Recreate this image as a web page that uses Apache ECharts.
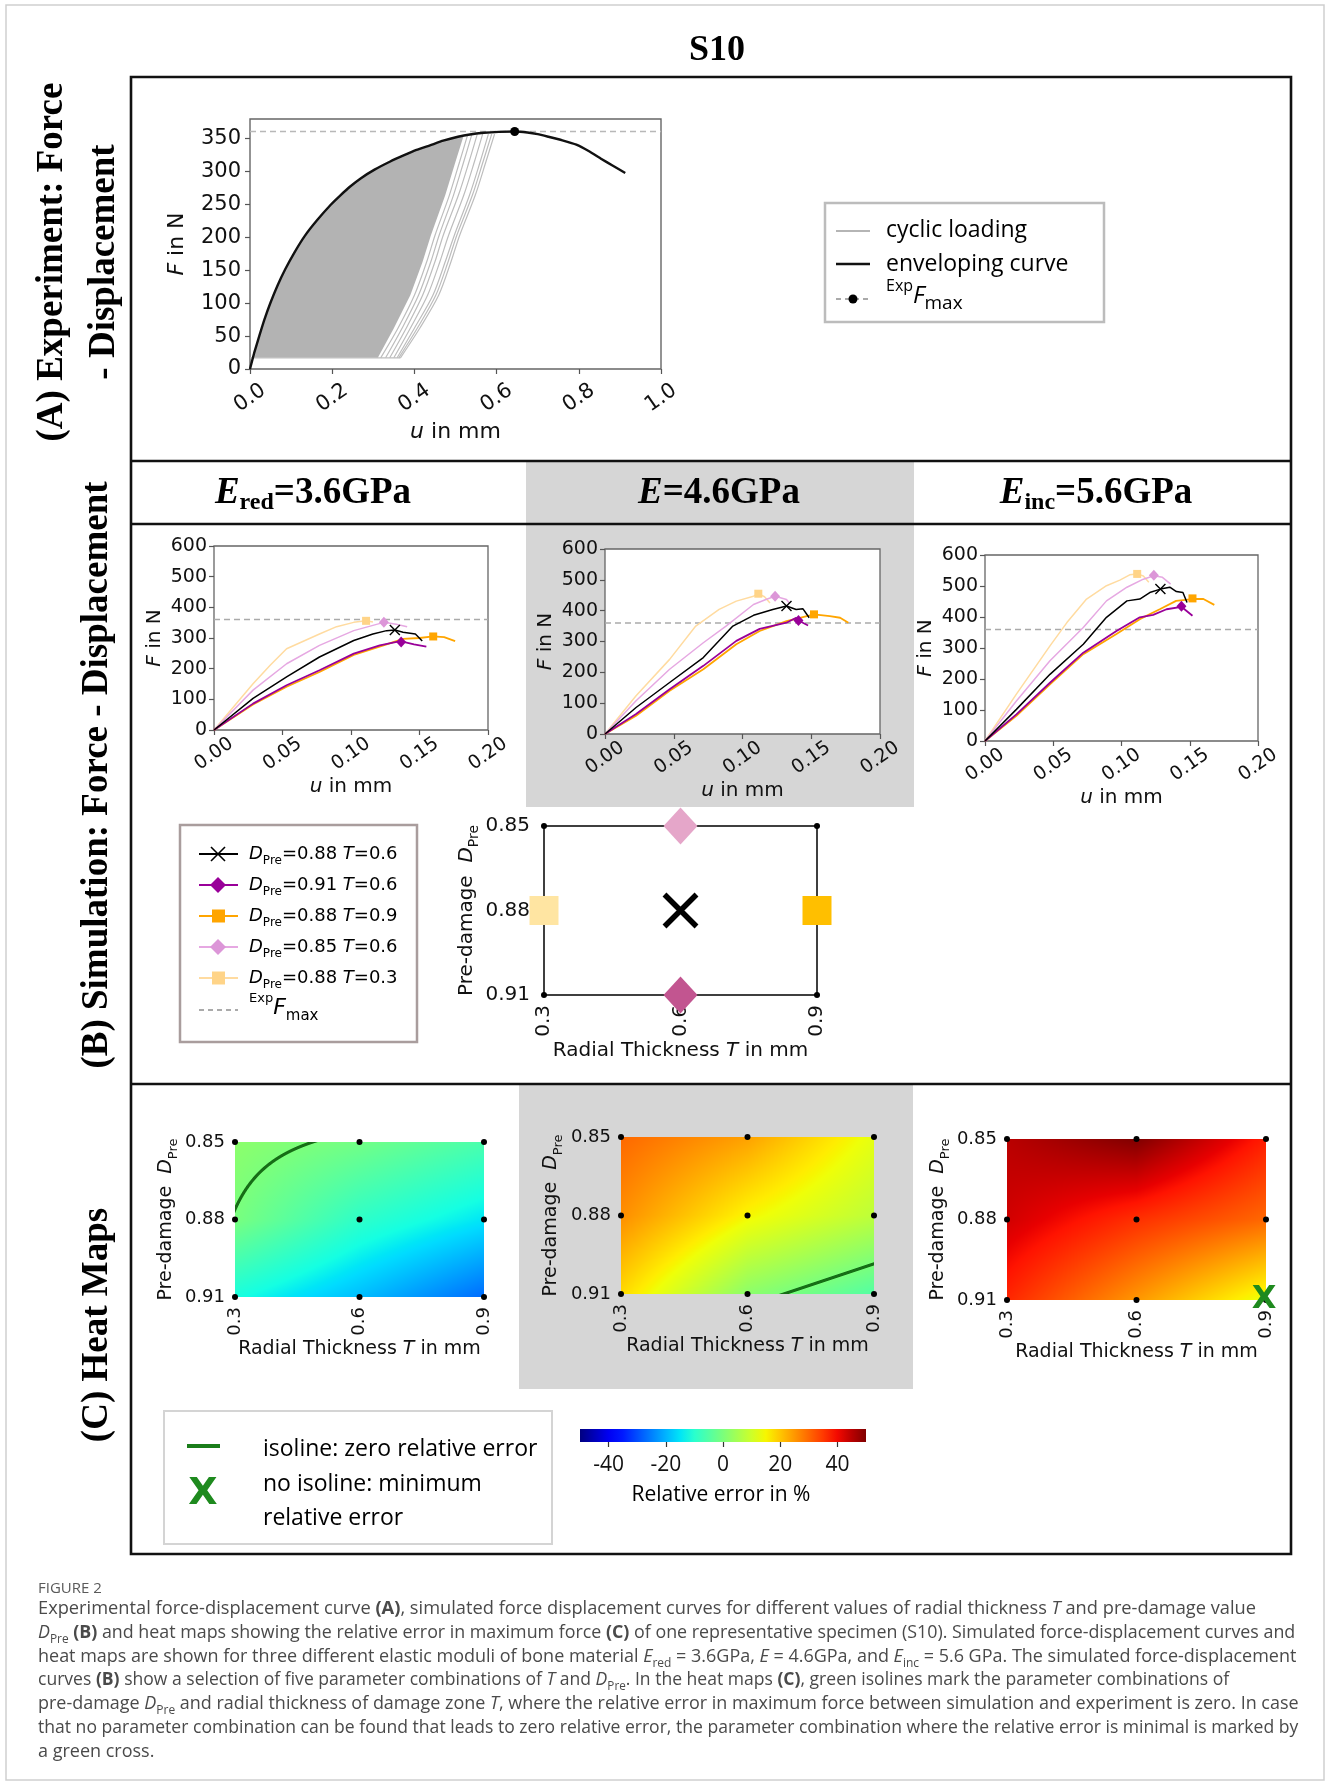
<!DOCTYPE html>
<html><head><meta charset="utf-8">
<script src="https://cdn.jsdelivr.net/npm/echarts@6/dist/echarts.min.js"></script>
<style>html,body{margin:0;padding:0;background:#fff}#c{width:1330px;height:1784px}</style>
</head><body><div id="c"></div>
<script>
const SANS='DejaVu Sans', OS='Open Sans', SERIF='Liberation Serif';

// ---------- (A) experiment ----------
const expPeak = [0.644, 361];
const EXP_FMAX_A = 361;
const envU = [0, 0.01, 0.023, 0.035, 0.05, 0.067, 0.086, 0.108, 0.133, 0.163, 0.197, 0.22, 0.243, 0.27, 0.303, 0.34, 0.375, 0.405, 0.438, 0.47, 0.506, 0.535, 0.569, 0.605, 0.644, 0.675, 0.7, 0.726, 0.76, 0.794, 0.825, 0.853, 0.883, 0.913];
const envF = [0, 24, 51, 75, 101, 127, 152, 177, 202, 226, 250, 264, 277, 290, 303, 315, 325, 333, 340, 347, 353, 356.5, 359, 360.5, 361, 359.5, 357, 353, 347.5, 341, 331, 320, 309, 298];
const cycFillU = [0.008, 0.023, 0.035, 0.05, 0.067, 0.086, 0.108, 0.133, 0.163, 0.197, 0.22, 0.243, 0.27, 0.303, 0.34, 0.375, 0.405, 0.438, 0.47, 0.506, 0.52, 0.50, 0.475, 0.44, 0.42, 0.39, 0.35, 0.311, 0.008];
const cycFillF = [17, 51, 75, 101, 127, 152, 177, 202, 226, 250, 264, 277, 290, 303, 315, 325, 333, 340, 347, 353, 355, 315, 264, 203, 163, 112, 62, 17, 17];
const cycLevelsF = [17, 62, 112, 163, 203, 264, 315, 357];
const cycU1 = [0.318, 0.360, 0.400, 0.430, 0.450, 0.485, 0.510, 0.530];
const cycU2 = [0.330, 0.370, 0.410, 0.440, 0.460, 0.495, 0.520, 0.540];
const cycU3 = [0.340, 0.380, 0.420, 0.450, 0.470, 0.507, 0.533, 0.553];
const cycU4 = [0.350, 0.390, 0.432, 0.462, 0.483, 0.520, 0.546, 0.566];
const cycU5 = [0.358, 0.400, 0.445, 0.475, 0.497, 0.534, 0.560, 0.580];
const cycU6 = [0.362, 0.407, 0.452, 0.482, 0.503, 0.541, 0.567, 0.588];
const cycU7 = [0.366, 0.413, 0.459, 0.489, 0.510, 0.548, 0.574, 0.595];
const cycBaseU = [0.0, 0.366];

// ---------- (B) simulation ----------
const EXP_FMAX = 360;
// E_red = 3.6 GPa
const red_088_06 = [[0,0],[0.0285,103],[0.053,173],[0.077,238],[0.102,292],[0.116,313],[0.126,324],[0.132,326],[0.138,319],[0.147,313],[0.152,290]];
const red_091_06 = [[0,0],[0.0285,86],[0.053,146],[0.077,195],[0.102,249],[0.121,276],[0.136,290],[0.1366,284],[0.146,279],[0.155,272]];
const red_088_09 = [[0,0],[0.0285,83],[0.053,141],[0.077,189],[0.102,245],[0.126,279],[0.138,297],[0.15,300],[0.16,305],[0.168,303],[0.176,290]];
const red_085_06 = [[0,0],[0.0285,130],[0.053,216],[0.077,276],[0.102,324],[0.124,351],[0.133,345],[0.141,337]];
const red_088_03 = [[0,0],[0.0285,151],[0.041,211],[0.053,265],[0.077,313],[0.0895,337],[0.102,351],[0.111,356],[0.116,352]];
const redPeaks = [[0.132,326],[0.1366,287],[0.16,305],[0.124,351],[0.111,356]];
// E = 4.6 GPa
const mid_088_06 = [[0,0],[0.0226,86],[0.047,167],[0.0715,248],[0.093,350],[0.108,385],[0.122,404],[0.132,415],[0.139,404],[0.144,406],[0.1485,377]];
const mid_091_06 = [[0,0],[0.0226,65],[0.047,145],[0.0715,221],[0.0955,302],[0.1125,341],[0.132,361],[0.139,377],[0.1407,368],[0.1477,352]];
const mid_088_09 = [[0,0],[0.0226,59],[0.047,140],[0.0715,210],[0.0955,291],[0.1125,334],[0.132,366],[0.1417,377],[0.152,388],[0.1635,382],[0.171,377],[0.177,361]];
const mid_085_06 = [[0,0],[0.0226,108],[0.047,210],[0.0715,296],[0.088,350],[0.108,420],[0.117,436],[0.1237,447],[0.132,436],[0.134,425]];
const mid_088_03 = [[0,0],[0.0226,124],[0.047,242],[0.066,350],[0.083,404],[0.0955,431],[0.108,447],[0.1115,455],[0.116,445],[0.12,425]];
const midPeaks = [[0.132,415],[0.1407,368],[0.152,388],[0.1237,447],[0.1115,455]];
// E_inc = 5.6 GPa
const inc_088_06 = [[0,0],[0.023,102],[0.0476,215],[0.072,312],[0.089,399],[0.104,452],[0.1134,458],[0.1207,479],[0.1285,490],[0.1354,496],[0.1402,482],[0.145,479],[0.148,447]];
const inc_091_06 = [[0,0],[0.023,86],[0.0476,188],[0.072,285],[0.0963,355],[0.1134,399],[0.1232,407],[0.133,425],[0.1439,433],[0.152,404]];
const inc_088_09 = [[0,0],[0.023,81],[0.0476,183],[0.072,280],[0.0963,345],[0.1134,393],[0.128,425],[0.14,452],[0.152,458],[0.16,458],[0.168,439]];
const inc_085_06 = [[0,0],[0.023,129],[0.0476,259],[0.072,366],[0.089,452],[0.104,496],[0.116,522],[0.1237,533],[0.13,528],[0.136,506]];
const inc_088_03 = [[0,0],[0.023,151],[0.0476,307],[0.06,382],[0.0744,458],[0.089,501],[0.0988,519],[0.106,536],[0.1115,539],[0.116,532],[0.12,512]];
const incPeaks = [[0.1285,490],[0.1439,435],[0.152,460],[0.1237,535],[0.1115,539]];

const comboD_lbl = ['0.88','0.91','0.88','0.85','0.88'];
const comboT_lbl = ['0.6','0.6','0.9','0.6','0.3'];
const comboT = [0.6, 0.6, 0.9, 0.6, 0.3];
const comboD = [0.88, 0.91, 0.88, 0.85, 0.88];

// ---------- (C) heat maps ----------
const tValues = [0.3, 0.6, 0.9];
const dValues = [0.85, 0.88, 0.91];
const errRed = [[2, -1.2, -6], [-0.3, -9.4, -15], [-12, -19, -27]];
const errMid = [[30, 24, 13], [26, 15, 8], [18, 2, -5]];
const errInc = [[45, 50, 38], [43, 36, 30], [37, 25, 13]];
const minErrInc = [0.9, 0.91];
const cbMin = -50, cbMax = 50;
const cbTicks = [-40, -20, 0, 20, 40];

// ---------- helpers ----------
function jet(t){
  t=Math.max(0,Math.min(1,t));
  let r,g,b;
  r = t<0.35?0 : t<0.66?(t-0.35)/0.31 : t<0.89?1 : 1-0.5*(t-0.89)/0.11;
  g = t<0.125?0 : t<0.375?(t-0.125)/0.25 : t<0.64?1 : t<0.91?1-(t-0.64)/0.27 : 0;
  b = t<0.11?0.5+0.5*t/0.11 : t<0.34?1 : t<0.65?1-(t-0.34)/0.31 : 0;
  return [Math.round(r*255),Math.round(g*255),Math.round(b*255)];
}
function rich(fs, fam, color){
  const lh=Math.round(fs*1.45), sf=Math.round(fs*0.68);
  return {
    n:{fontSize:fs,fontFamily:fam,fontStyle:'normal',fontWeight:'normal',lineHeight:lh,color},
    i:{fontSize:fs,fontFamily:fam,fontStyle:'italic',fontWeight:'normal',lineHeight:lh,color},
    b:{fontSize:fs,fontFamily:fam,fontStyle:'normal',fontWeight:'bold',lineHeight:lh,color},
    s:{fontSize:sf,fontFamily:fam,fontStyle:'normal',fontWeight:'normal',lineHeight:sf,verticalAlign:'bottom',color},
    p:{fontSize:sf,fontFamily:fam,fontStyle:'normal',fontWeight:'normal',lineHeight:sf,verticalAlign:'top',color}
  };
}
function gtext(x,y,text,fs,fam,o){
  o=o||{};
  return {type:'text', x, y, rotation:o.rot||0, scaleX:o.sx||1, z:o.z||110, silent:true,
    style:{text, fontSize:fs, fontFamily:fam, fontWeight:o.w||'normal', fontStyle:o.st||'normal',
      fill:o.c||'#000', align:o.a||'left', textAlign:o.a||'left', verticalAlign:'middle', textVerticalAlign:'middle', rich:o.rich}};
}

const grids=[], xAxes=[], yAxes=[], series=[];
function addGrid(g, xa, ya){ grids.push(g); const gi=grids.length-1; xa.gridIndex=gi; ya.gridIndex=gi; xAxes.push(xa); yAxes.push(ya); return gi; }
function lbl(fs, extra){ return Object.assign({fontSize:fs, fontFamily:SANS, color:'#111'}, extra); }
const tickStyle = {show:true, length:5, lineStyle:{color:'#555', width:1.2}};

// ---------- grid A ----------
const gA = addGrid({left:250, top:119, width:411, height:250, show:true, borderColor:'#666', borderWidth:1.4, backgroundColor:'#fff'},
  {type:'value', min:0, max:1, interval:0.2, axisLine:{show:false}, splitLine:{show:false}, axisTick:tickStyle,
   axisLabel:lbl(21,{rotate:35, align:'center', verticalAlign:'middle', margin:29, formatter:v=>v.toFixed(1)}),
   name:'{i|u}{n| in mm}', nameLocation:'middle', nameGap:47, nameTextStyle:{rich:rich(22,SANS,'#111')}},
  {type:'value', min:0, max:380, axisLine:{show:false}, splitLine:{show:false},
   axisTick:Object.assign({customValues:[0,50,100,150,200,250,300,350]}, tickStyle),
   axisLabel:lbl(21,{customValues:[0,50,100,150,200,250,300,350], margin:9}),
   name:'{i|F}{n| in N}', nameLocation:'middle', nameGap:57, nameTextStyle:{rich:rich(22,SANS,'#111')}});
series.push({type:'custom', xAxisIndex:gA, yAxisIndex:gA, data:[[0,0]], silent:true, z:1,
  renderItem:(p,api)=>({type:'polygon', shape:{points:cycFillU.map((u,i)=>api.coord([u,cycFillF[i]]))}, style:{fill:'#b3b3b3'}})});
[cycU1,cycU2,cycU3,cycU4,cycU5,cycU6,cycU7].forEach(arr=>{
  series.push({type:'line', xAxisIndex:gA, yAxisIndex:gA, data:arr.map((u,i)=>[u,cycLevelsF[i]]), symbol:'none', smooth:0.3, silent:true, z:2,
    lineStyle:{color:'#bdbdbd', width:1.2}});
});
series.push({type:'line', xAxisIndex:gA, yAxisIndex:gA, data:cycBaseU.map(u=>[u,cycLevelsF[0]]), symbol:'none', silent:true, z:2, lineStyle:{color:'#bdbdbd', width:1.2}});
series.push({type:'line', xAxisIndex:gA, yAxisIndex:gA, data:[[0,EXP_FMAX_A],[1,EXP_FMAX_A]], symbol:'none', silent:true, z:3, lineStyle:{color:'#b8b8b8', width:1.6, type:[6,4]}});
series.push({type:'line', xAxisIndex:gA, yAxisIndex:gA, data:envU.map((u,i)=>[u,envF[i]]), symbol:'none', smooth:0.15, silent:true, z:4, lineStyle:{color:'#111', width:2.4, join:'round'}});
series.push({type:'scatter', xAxisIndex:gA, yAxisIndex:gA, data:[expPeak], symbolSize:9, silent:true, z:5, itemStyle:{color:'#000', opacity:1}});

// ---------- grids B ----------
const bStyles = [
  {c:'#000000', mc:'#000000', w:1.5, sym:'x', z:6},
  {c:'#990099', mc:'#990099', w:1.8, sym:'diamond', z:5},
  {c:'#ffa500', mc:'#ffa500', w:1.8, sym:'rect', z:4},
  {c:'#e6a8e2', mc:'#dc96d8', w:1.5, sym:'diamond', z:3},
  {c:'#ffdba0', mc:'#ffd488', w:1.5, sym:'rect', z:2}
];
const XPATH='path://M0,0L10,10M10,0L0,10';
function symOf(s, big){
  if(s==='x') return {symbol:XPATH, size:big?32:10};
  if(s==='diamond') return {symbol:'diamond', size:big?[34,37]:[10,11]};
  return {symbol:'rect', size:big?29:8};
}
const bBoxes = [
  {left:214, top:546, width:274, height:184, curves:[red_088_06,red_091_06,red_088_09,red_085_06,red_088_03], peaks:redPeaks},
  {left:605, top:549, width:275, height:185, curves:[mid_088_06,mid_091_06,mid_088_09,mid_085_06,mid_088_03], peaks:midPeaks},
  {left:985, top:555, width:273, height:186, curves:[inc_088_06,inc_091_06,inc_088_09,inc_085_06,inc_088_03], peaks:incPeaks}
];
bBoxes.forEach(bb=>{
  const gi = addGrid({left:bb.left, top:bb.top, width:bb.width, height:bb.height, show:true, borderColor:'#666', borderWidth:1.3, backgroundColor:'#fff'},
    {type:'value', min:0, max:0.2, interval:0.05, axisLine:{show:false}, splitLine:{show:false}, axisTick:tickStyle,
     axisLabel:lbl(19,{rotate:35, align:'center', verticalAlign:'middle', margin:24, formatter:v=>v.toFixed(2)}),
     name:'{i|u}{n| in mm}', nameLocation:'middle', nameGap:42, nameTextStyle:{rich:rich(20,SANS,'#111')}},
    {type:'value', min:0, max:600, interval:100, axisLine:{show:false}, splitLine:{show:false}, axisTick:tickStyle,
     axisLabel:lbl(19,{margin:7}),
     name:'{i|F}{n| in N}', nameLocation:'middle', nameGap:45, nameTextStyle:{rich:rich(20,SANS,'#111')}});
  series.push({type:'line', xAxisIndex:gi, yAxisIndex:gi, data:[[0,EXP_FMAX],[0.2,EXP_FMAX]], symbol:'none', silent:true, z:1, lineStyle:{color:'#aaaaaa', width:1.5, type:[6,4]}});
  bb.curves.forEach((cv,k)=>{
    const st=bStyles[k];
    series.push({type:'line', xAxisIndex:gi, yAxisIndex:gi, data:cv, symbol:'none', silent:true, z:st.z, lineStyle:{color:st.c, width:st.w}});
    const sm=symOf(st.sym,false);
    series.push({type:'scatter', xAxisIndex:gi, yAxisIndex:gi, data:[bb.peaks[k]], symbol:sm.symbol, symbolSize:sm.size, silent:true, z:st.z+10,
      itemStyle: st.sym==='x'?{color:'rgba(0,0,0,0)', borderColor:'#000', borderWidth:1.4, opacity:1}:{color:st.mc, opacity:1}});
  });
});

// ---------- B combo diagram ----------
const gS = addGrid({left:544, top:826, width:273, height:169, show:true, borderColor:'#000', borderWidth:1.5},
  {type:'value', min:0.3, max:0.9, axisLine:{show:false}, splitLine:{show:false}, axisTick:{show:false},
   axisLabel:lbl(20,{customValues:tValues, rotate:90, margin:10, formatter:v=>v.toFixed(1)}),
   name:'{n|Radial Thickness }{i|T}{n| in mm}', nameLocation:'middle', nameGap:39, nameTextStyle:{rich:rich(20,SANS,'#111')}},
  {type:'value', min:0.85, max:0.91, inverse:true, axisLine:{show:false}, splitLine:{show:false}, axisTick:{show:false},
   axisLabel:lbl(20,{customValues:dValues, margin:14, formatter:v=>v.toFixed(2)}),
   name:'{n|Pre-damage  }{i|D}{s|Pre}', nameLocation:'middle', nameGap:63, nameTextStyle:{rich:rich(20,SANS,'#111')}});
series.push({type:'scatter', xAxisIndex:gS, yAxisIndex:gS, data:[[tValues[0],dValues[0]],[tValues[2],dValues[0]],[tValues[0],dValues[2]],[tValues[2],dValues[2]]],
  symbolSize:6, silent:true, z:3, itemStyle:{color:'#000', opacity:1}});
const comboColors = ['#000000','#c25590','#ffbf00','#e5a6c9','#ffe5a2'];
comboT.forEach((t,k)=>{
  const sm=symOf(bStyles[k].sym,true);
  series.push({type:'scatter', xAxisIndex:gS, yAxisIndex:gS, data:[[t,comboD[k]]], symbol:sm.symbol, symbolSize:sm.size, silent:true, z:5,
    itemStyle: bStyles[k].sym==='x'?{color:'rgba(0,0,0,0)', borderColor:'#000', borderWidth:5.5, opacity:1}:{color:comboColors[k], opacity:1}});
});

// ---------- heat maps ----------
function cellRender(params, api){
  const t0=api.value(0), d0=api.value(1), t1=api.value(2), d1=api.value(3);
  const v00=api.value(4), v10=api.value(5), v01=api.value(6), v11=api.value(7);
  const p0=api.coord([t0,d0]), p1=api.coord([t1,d1]);
  const X0=Math.floor(Math.min(p0[0],p1[0])), X1=Math.ceil(Math.max(p0[0],p1[0]));
  const Y0=Math.floor(Math.min(p0[1],p1[1])), Y1=Math.ceil(Math.max(p0[1],p1[1]));
  const W=X1-X0, H=Y1-Y0;
  const cv=document.createElement('canvas'); cv.width=W; cv.height=H;
  const ctx=cv.getContext('2d'); const img=ctx.createImageData(W,H);
  const sx=p1[0]-p0[0], sy=p1[1]-p0[1];
  for(let j=0;j<H;j++){
    for(let i=0;i<W;i++){
      const X=X0+i+0.5, Y=Y0+j+0.5;
      const s=Math.max(0,Math.min(1,(X-p0[0])/sx)), r=Math.max(0,Math.min(1,(Y-p0[1])/sy));
      const v=v00*(1-s)*(1-r)+v10*s*(1-r)+v01*(1-s)*r+v11*s*r;
      const gx=((v10-v00)*(1-r)+(v11-v01)*r)/sx, gy=((v01-v00)*(1-s)+(v11-v10)*s)/sy;
      const g=Math.hypot(gx,gy); const d=g>1e-9?Math.abs(v)/g:1e9;
      let [R,G,B]=jet((v-cbMin)/(cbMax-cbMin));
      const a=d<1.1?1:(d<2?(2-d)/0.9:0);
      R=R*(1-a)+22*a; G=G*(1-a)+110*a; B=B*(1-a)+22*a;
      const o=(j*W+i)*4; img.data[o]=R; img.data[o+1]=G; img.data[o+2]=B; img.data[o+3]=255;
    }
  }
  ctx.putImageData(img,0,0);
  return {type:'image', silent:true, style:{image:cv, x:X0, y:Y0, width:W, height:H}};
}
function cellsOf(err){
  const out=[];
  for(let r=0;r<2;r++) for(let c=0;c<2;c++)
    out.push([tValues[c],dValues[r],tValues[c+1],dValues[r+1],err[r][c],err[r][c+1],err[r+1][c],err[r+1][c+1]]);
  return out;
}
const hmBoxes = [
  {left:235, top:1142, width:249, height:155, err:errRed, yGap:55},
  {left:621, top:1137, width:253, height:157, err:errMid, yGap:56},
  {left:1007, top:1139, width:259, height:161, err:errInc, yGap:55}
];
const nodes=[]; dValues.forEach(d=>tValues.forEach(t=>nodes.push([t,d])));
hmBoxes.forEach((hb,k)=>{
  const gi=addGrid({left:hb.left, top:hb.top, width:hb.width, height:hb.height},
    {type:'value', min:0.3, max:0.9, axisLine:{show:false}, splitLine:{show:false}, axisTick:{show:false},
     axisLabel:lbl(18,{customValues:tValues, rotate:90, margin:10, formatter:v=>v.toFixed(1)}),
     name:'{n|Radial Thickness }{i|T}{n| in mm}', nameLocation:'middle', nameGap:37, nameTextStyle:{rich:rich(19,SANS,'#111')}},
    {type:'value', min:0.85, max:0.91, inverse:true, axisLine:{show:false}, splitLine:{show:false}, axisTick:{show:false},
     axisLabel:lbl(18,{customValues:dValues, margin:10, formatter:v=>v.toFixed(2)}),
     name:'{n|Pre-damage  }{i|D}{s|Pre}', nameLocation:'middle', nameGap:hb.yGap, nameTextStyle:{rich:rich(19,SANS,'#111')}});
  series.push({type:'custom', xAxisIndex:gi, yAxisIndex:gi, data:cellsOf(hb.err), renderItem:cellRender, silent:true, z:1,
    dimensions:['t0','d0','t1','d1','v00','v10','v01','v11'], encode:{x:0,y:1}});
  series.push({type:'scatter', xAxisIndex:gi, yAxisIndex:gi, data:nodes, symbolSize:6, silent:true, z:3, itemStyle:{color:'#000', opacity:1}});
  if(k===2){
    series.push({type:'custom', xAxisIndex:gi, yAxisIndex:gi, data:[minErrInc], silent:true, z:6,
      renderItem:(p,api)=>{const c=api.coord([api.value(0),api.value(1)]);
        return {type:'text', x:c[0]-2, y:c[1], style:{text:'X', fontSize:32, fontFamily:SANS, fontWeight:'bold', fill:'#1e8a1e', align:'center', verticalAlign:'middle'}};}});
  }
});

// ---------- colorbar ----------
const gC = addGrid({left:580, top:1429, width:286, height:13},
  {type:'value', min:cbMin, max:cbMax, axisLine:{show:false}, splitLine:{show:false},
   axisTick:{show:true, customValues:cbTicks, length:5, lineStyle:{color:'#333', width:1.2}},
   axisLabel:{customValues:cbTicks, margin:13, fontSize:21, fontFamily:OS, color:'#111'}},
  {type:'value', min:0, max:1, show:false});
const jetStops=[]; for(let k=0;k<=20;k++){const c=jet(k/20); jetStops.push({offset:k/20, color:`rgb(${c[0]},${c[1]},${c[2]})`});}
series.push({type:'custom', xAxisIndex:gC, yAxisIndex:gC, data:[[cbMin,0]], silent:true,
  renderItem:(p,api)=>{const a=api.coord([cbMin,1]), b=api.coord([cbMax,0]);
    return {type:'rect', shape:{x:a[0], y:a[1], width:b[0]-a[0], height:b[1]-a[1]}, style:{fill:new echarts.graphic.LinearGradient(0,0,1,0,jetStops)}};}});

// ---------- graphics ----------
const G=[];
G.push({type:'rect', z:-10, silent:true, shape:{x:6,y:5,width:1318,height:1775}, style:{fill:'#fff', stroke:'#cfcfcf', lineWidth:1.5}});
G.push({type:'rect', z:-5, silent:true, shape:{x:526,y:462,width:388,height:345}, style:{fill:'#d6d6d6'}});
G.push({type:'rect', z:-5, silent:true, shape:{x:519,y:1085,width:394,height:304}, style:{fill:'#d6d6d6'}});
G.push({type:'rect', z:100, silent:true, shape:{x:131,y:77,width:1160,height:1477}, style:{fill:'none', stroke:'#111', lineWidth:2.6}});
[461,524,1084].forEach(y=>G.push({type:'line', z:100, silent:true, shape:{x1:131,y1:y,x2:1291,y2:y}, style:{stroke:'#111', lineWidth:2.6}}));
G.push(gtext(717,51,'S10',36,SERIF,{w:'bold',a:'center'}));
const hr=(fs)=>({bi:{fontSize:fs,fontFamily:SERIF,fontStyle:'italic',fontWeight:'bold',lineHeight:44},
  b:{fontSize:fs,fontFamily:SERIF,fontStyle:'normal',fontWeight:'bold',lineHeight:44},
  s:{fontSize:24,fontFamily:SERIF,fontStyle:'normal',fontWeight:'bold',lineHeight:22,verticalAlign:'bottom'}});
G.push(gtext(313,493,'{bi|E}{s|red}{b|=3.6GPa}',37,SERIF,{a:'center',rich:hr(37)}));
G.push(gtext(719,493,'{bi|E}{b|=4.6GPa}',37,SERIF,{a:'center',rich:hr(37)}));
G.push(gtext(1096,493,'{bi|E}{s|inc}{b|=5.6GPa}',37,SERIF,{a:'center',rich:hr(37)}));
G.push(gtext(52,262,'(A) Experiment: Force',37,SERIF,{w:'bold',a:'center',rot:Math.PI/2}));
G.push(gtext(104,262,'- Displacement',37,SERIF,{w:'bold',a:'center',rot:Math.PI/2}));
G.push(gtext(97,775,'(B) Simulation: Force - Displacement',37,SERIF,{w:'bold',a:'center',rot:Math.PI/2}));
G.push(gtext(97,1325,'(C) Heat Maps',37,SERIF,{w:'bold',a:'center',rot:Math.PI/2}));

// legend A
G.push({type:'rect', z:105, silent:true, shape:{x:825,y:203,width:279,height:119}, style:{fill:'#fff', stroke:'#bcbcbc', lineWidth:2.5}});
G.push({type:'line', z:106, silent:true, shape:{x1:836,y1:231,x2:870,y2:231}, style:{stroke:'#b5b5b5', lineWidth:2}});
G.push(gtext(886,230,'cyclic loading',23,OS));
G.push({type:'line', z:106, silent:true, shape:{x1:836,y1:264,x2:870,y2:264}, style:{stroke:'#111', lineWidth:2.5}});
G.push(gtext(886,264,'enveloping curve',23,OS));
G.push({type:'line', z:106, silent:true, shape:{x1:836,y1:299,x2:870,y2:299}, style:{stroke:'#aaa', lineWidth:2, lineDash:[5,4]}});
G.push({type:'circle', z:107, silent:true, shape:{cx:853,cy:299,r:4.5}, style:{fill:'#000'}});
const r22=rich(24,OS,'#111'); r22.p.fontSize=16; r22.p.lineHeight=16; r22.s.fontSize=19; r22.s.lineHeight=19;
G.push(gtext(886,296,'{p|Exp}{i|F}{s|max}',24,OS,{rich:r22}));

// legend B
G.push({type:'rect', z:105, silent:true, shape:{x:180,y:825,width:237,height:217}, style:{fill:'#fff', stroke:'#a99d9d', lineWidth:2.5}});
const legRowsY=[854,885,916,947,978];
const legSyms=[{c:'#000',m:'x'},{c:'#990099',m:'d'},{c:'#ffa500',m:'s'},{c:'#e6a8e2',mc:'#dc96d8',m:'d'},{c:'#ffdba0',mc:'#ffd488',m:'s'}];
const rB=rich(18,SANS,'#111');
legRowsY.forEach((y,k)=>{
  const ls=legSyms[k];
  G.push({type:'line', z:106, silent:true, shape:{x1:199,y1:y,x2:238,y2:y}, style:{stroke:ls.c, lineWidth:2}});
  if(ls.m==='x'){
    G.push({type:'line', z:107, silent:true, shape:{x1:211,y1:y-7,x2:225,y2:y+7}, style:{stroke:'#000', lineWidth:1.6}});
    G.push({type:'line', z:107, silent:true, shape:{x1:211,y1:y+7,x2:225,y2:y-7}, style:{stroke:'#000', lineWidth:1.6}});
  } else if(ls.m==='d'){
    G.push({type:'polygon', z:107, silent:true, shape:{points:[[218,y-8],[226,y],[218,y+8],[210,y]]}, style:{fill:ls.mc||ls.c}});
  } else {
    G.push({type:'rect', z:107, silent:true, shape:{x:212,y:y-6.5,width:13,height:13}, style:{fill:ls.mc||ls.c}});
  }
  G.push(gtext(249,y,'{i|D}{s|Pre}{n|='+comboD_lbl[k]+' }{i|T}{n|='+comboT_lbl[k]+'}',18,SANS,{rich:rB}));
});
G.push({type:'line', z:106, silent:true, shape:{x1:199,y1:1010,x2:238,y2:1010}, style:{stroke:'#aaa', lineWidth:2, lineDash:[5,4]}});
const rB2=rich(22,SANS,'#111'); rB2.p.fontSize=13; rB2.p.lineHeight=13; rB2.s.fontSize=15; rB2.s.lineHeight=15;
G.push(gtext(249,1008,'{p|Exp}{i|F}{s|max}',22,SANS,{rich:rB2}));

// legend C
G.push({type:'rect', z:105, silent:true, shape:{x:164,y:1411,width:388,height:133}, style:{fill:'#fff', stroke:'#d4d4d4', lineWidth:2}});
G.push({type:'line', z:106, silent:true, shape:{x1:187,y1:1446,x2:220,y2:1446}, style:{stroke:'#1a7d1a', lineWidth:4}});
G.push(gtext(263,1449,'isoline: zero relative error',23,OS));
G.push(gtext(203,1494,'X',38,SANS,{w:'bold',a:'center',c:'#1e8a1e'}));
G.push(gtext(263,1484,'no isoline: minimum',23,OS));
G.push(gtext(263,1518,'relative error',23,OS));
G.push(gtext(721,1495,'Relative error in %',21,OS,{a:'center'}));

// caption
const rc=rich(18,OS,'#4a4a4a'); rc.s.fontSize=12; rc.s.lineHeight=12;
G.push(gtext(38,1589,'FIGURE 2',15,OS,{c:'#5a5a5a'}));
const capLines=[
 '{n|Experimental force-displacement curve }{b|(A)}{n|, simulated force displacement curves for different values of radial thickness }{i|T}{n| and pre-damage value}',
 '{i|D}{s|Pre}{n| }{b|(B)}{n| and heat maps showing the relative error in maximum force }{b|(C)}{n| of one representative specimen (S10). Simulated force-displacement curves and}',
 '{n|heat maps are shown for three different elastic moduli of bone material }{i|E}{s|red}{n| = 3.6GPa, }{i|E}{n| = 4.6GPa, and }{i|E}{s|inc}{n| = 5.6 GPa. The simulated force-displacement}',
 '{n|curves }{b|(B)}{n| show a selection of five parameter combinations of }{i|T}{n| and }{i|D}{s|Pre}{n|. In the heat maps }{b|(C)}{n|, green isolines mark the parameter combinations of}',
 '{n|pre-damage }{i|D}{s|Pre}{n| and radial thickness of damage zone }{i|T}{n|, where the relative error in maximum force between simulation and experiment is zero. In case}',
 '{n|that no parameter combination can be found that leads to zero relative error, the parameter combination where the relative error is minimal is marked by}',
 '{n|a green cross.}'
];
const capY=[1609,1633,1657,1680,1704,1728,1752];
const capScale=[1.014,0.991,0.999,0.975,0.998,0.976,1];
capLines.forEach((t,k)=>G.push(gtext(38,capY[k],t,18,OS,{rich:rc,c:'#4a4a4a',sx:capScale[k]})));

const chart=echarts.init(document.getElementById('c'),null,{renderer:'canvas',width:1330,height:1784});
chart.setOption({animation:false, backgroundColor:'#fff', grid:grids, xAxis:xAxes, yAxis:yAxes, series, graphic:{elements:G}});
</script></body></html>
